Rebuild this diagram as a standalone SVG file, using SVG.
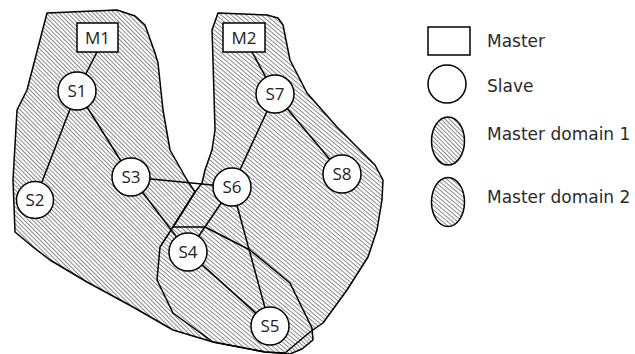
<svg xmlns="http://www.w3.org/2000/svg" width="635" height="354" viewBox="0 0 635 354">
<style>
.dom{stroke:#000;stroke-width:1.5;stroke-linejoin:round}
.out{fill:none;stroke:#000;stroke-width:1.5;stroke-linejoin:round}
.edge{stroke:#000;stroke-width:1.5;fill:none}
.node{fill:#fff;stroke:#000;stroke-width:1.5}
.nt{font-family:"Open Sans","DejaVu Sans",sans-serif;font-size:17px;fill:#222;text-anchor:middle}
.lt{font-family:"DejaVu Sans",sans-serif;font-size:17px;fill:#2a2a2a}
</style>
<defs>
<pattern id="h1" width="3" height="3" patternUnits="userSpaceOnUse" patternTransform="rotate(45)">
<rect width="3" height="3" fill="#fff"/>
<line x1="0" y1="0.5" x2="3" y2="0.5" stroke="#7c7c7c" stroke-width="0.9"/>
</pattern>
<pattern id="h2" width="3.2" height="3.2" patternUnits="userSpaceOnUse" patternTransform="rotate(40)">
<rect width="3.2" height="3.2" fill="#fff"/>
<line x1="0" y1="0.5" x2="3.2" y2="0.5" stroke="#7c7c7c" stroke-width="0.9"/>
</pattern>
<polygon id="p1" points="47,13 117,10 135,16 145,25 155,53 158,63 163,110 170,150 187,180 195,192 173,227 205,227 250,250 290,283 312,328 313,340 302,349 290,354 265,352 213,342 173,330 133,307 87,282 50,260 33,247 15,232 13,180 17,110 27,90"/>
<polygon id="p2" points="218,13 267,15 278,18 283,25 290,60 307,93 337,127 363,153 375,165 383,180 382,200 377,230 368,257 347,290 323,323 310,332 285,353 265,352 213,342 173,313 157,280 160,247 173,227 195,192 202,183 205,170 212,150 215,130 213,60 212,30"/>
</defs>
<rect width="635" height="354" fill="#fff"/>
<g id="domain1">
<use href="#p1" fill="url(#h1)"/>
</g>
<g id="domain2">
<use href="#p2" fill="url(#h2)"/>
</g>
<g id="domain-outlines">
<use href="#p1" class="out"/>
<use href="#p2" class="out"/>
</g>
<g id="connectors">
<line class="edge" x1="97" y1="52" x2="77" y2="91"/>
<line class="edge" x1="77" y1="91" x2="35" y2="200"/>
<line class="edge" x1="77" y1="91" x2="131" y2="177"/>
<line class="edge" x1="131" y1="177" x2="232" y2="187"/>
<line class="edge" x1="131" y1="177" x2="188" y2="252"/>
<line class="edge" x1="252" y1="52" x2="275" y2="94"/>
<line class="edge" x1="275" y1="94" x2="232" y2="187"/>
<line class="edge" x1="275" y1="94" x2="342" y2="174"/>
<line class="edge" x1="232" y1="187" x2="188" y2="252"/>
<line class="edge" x1="232" y1="187" x2="270" y2="326"/>
<line class="edge" x1="188" y1="252" x2="270" y2="326"/>
</g>
<g id="M1"><rect class="node" x="77" y="23" width="41" height="29"/><text class="nt" x="97.5" y="44">M1</text></g>
<g id="M2"><rect class="node" x="223" y="23" width="42" height="29"/><text class="nt" x="244" y="44">M2</text></g>
<g id="S1"><circle class="node" cx="77" cy="91" r="19"/><text class="nt" x="77" y="97">S1</text></g>
<g id="S2"><circle class="node" cx="35" cy="200" r="18.5"/><text class="nt" x="35" y="206">S2</text></g>
<g id="S3"><circle class="node" cx="131" cy="177" r="19"/><text class="nt" x="131" y="183">S3</text></g>
<g id="S6"><circle class="node" cx="232" cy="187" r="19"/><text class="nt" x="232" y="193">S6</text></g>
<g id="S7"><circle class="node" cx="275" cy="94" r="19"/><text class="nt" x="275" y="100">S7</text></g>
<g id="S8"><circle class="node" cx="342" cy="174" r="19"/><text class="nt" x="342" y="180">S8</text></g>
<g id="S4"><circle class="node" cx="188" cy="252" r="19"/><text class="nt" x="188" y="258">S4</text></g>
<g id="S5"><circle class="node" cx="270" cy="326" r="19"/><text class="nt" x="270" y="332">S5</text></g>
<g id="legend">
<rect class="node" x="428" y="27" width="42" height="28"/>
<text class="lt" x="487" y="47">Master</text>
<circle class="node" cx="447" cy="84" r="19"/>
<text class="lt" x="487" y="92">Slave</text>
<ellipse class="dom" fill="url(#h1)" cx="448" cy="141" rx="16.5" ry="24"/>
<text class="lt" x="487" y="140">Master domain 1</text>
<ellipse class="dom" fill="url(#h2)" cx="448" cy="202" rx="16.5" ry="24.5"/>
<text class="lt" x="487" y="203">Master domain 2</text>
</g>
</svg>
